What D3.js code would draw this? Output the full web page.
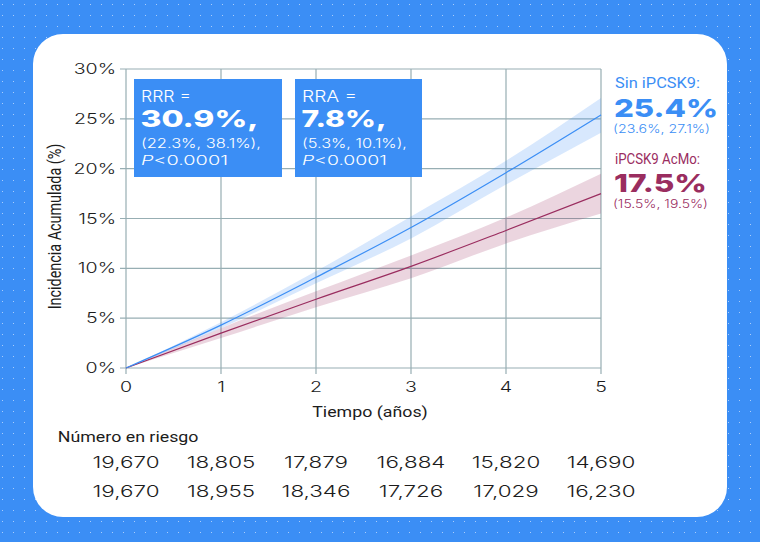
<!DOCTYPE html>
<html>
<head>
<meta charset="utf-8">
<script src="https://cdn.jsdelivr.net/npm/d3@7"></script>
<style>
  body { margin: 0; background: #3b8ef5; }
  svg { display: block; }
</style>
</head>
<body>
<div id="chart"></div>
<script>
// data
var years = [0, 1, 2, 3, 4, 5];
var sinRate = [0, 4.3, 9.1, 14.1, 19.6, 25.4];
var sinLow = [0, 4.0, 8.5, 13.0, 18.4, 23.6];
var sinHigh = [0, 4.6, 9.7, 15.2, 20.8, 27.1];
var acmoRate = [0, 3.5, 6.9, 10.2, 13.8, 17.5];
var acmoLow = [0, 3.0, 6.1, 9.0, 12.5, 15.5];
var acmoHigh = [0, 4.0, 7.7, 11.3, 15.1, 19.5];
var yTicks = [0, 5, 10, 15, 20, 25, 30];
var riskSin = [19670, 18805, 17879, 16884, 15820, 14690];
var riskAcmo = [19670, 18955, 18346, 17726, 17029, 16230];

var blue = "#3b8ef5", wine = "#9a2d5f", gridColor = "#97aeb3", ink = "#1c1c1c";
var geo = "Inter, 'Open Sans', sans-serif";
var plain = "Roboto, sans-serif";

var svg = d3.select("#chart").append("svg")
    .attr("width", 760)
    .attr("height", 542);

// dotted background
var defs = svg.append("defs");
var pat = defs.append("pattern")
    .attr("id", "dots")
    .attr("patternUnits", "userSpaceOnUse")
    .attr("x", 8).attr("y", 10)
    .attr("width", 11).attr("height", 11);
pat.append("rect").attr("width", 11).attr("height", 11).attr("fill", blue);
pat.append("rect").attr("x", 5).attr("y", 5).attr("width", 1).attr("height", 1).attr("fill", "#a9cdfb");

svg.append("rect").attr("width", 760).attr("height", 542).attr("fill", "url(#dots)");
svg.append("rect")
    .attr("x", 33).attr("y", 34)
    .attr("width", 694).attr("height", 483)
    .attr("rx", 30)
    .attr("fill", "#fff");

var margin = { left: 126, top: 69 },
    width = 475, height = 299;

var x = d3.scaleLinear().domain([0, 5]).range([0, width]);
var y = d3.scaleLinear().domain([0, 30]).range([height, 0]);

var g = svg.append("g").attr("transform", "translate(" + margin.left + "," + margin.top + ")");

// text helper: the picture is stretched wide, so squeeze fonts out horizontally
function stretch(sel, tx, ty, sx) {
    return sel.attr("transform", "translate(" + tx + "," + ty + ") scale(" + sx + ",1)");
}

// grid
g.append("g").selectAll("line")
    .data(yTicks).enter().append("line")
    .attr("x1", -6).attr("x2", width)
    .attr("y1", function (d) { return y(d); })
    .attr("y2", function (d) { return y(d); })
    .attr("stroke", gridColor).attr("stroke-width", 1.2);
g.append("g").selectAll("line")
    .data(years).enter().append("line")
    .attr("x1", function (d) { return x(d); })
    .attr("x2", function (d) { return x(d); })
    .attr("y1", 0).attr("y2", height + 6)
    .attr("stroke", gridColor).attr("stroke-width", 1.2);

// bands and lines
function series(rate, low, high) {
    return years.map(function (t, i) { return { t: t, v: rate[i], lo: low[i], hi: high[i] }; });
}
var sinData = series(sinRate, sinLow, sinHigh);
var acmoData = series(acmoRate, acmoLow, acmoHigh);

var area = d3.area()
    .curve(d3.curveMonotoneX)
    .x(function (d) { return x(d.t); })
    .y0(function (d) { return y(d.lo); })
    .y1(function (d) { return y(d.hi); });
var line = d3.line()
    .curve(d3.curveMonotoneX)
    .x(function (d) { return x(d.t); })
    .y(function (d) { return y(d.v); });

g.append("path").attr("d", area(acmoData)).attr("fill", wine).attr("fill-opacity", 0.2);
g.append("path").attr("d", area(sinData)).attr("fill", blue).attr("fill-opacity", 0.2);
g.append("path").attr("d", line(acmoData)).attr("fill", "none").attr("stroke", wine).attr("stroke-width", 1.2);
g.append("path").attr("d", line(sinData)).attr("fill", "none").attr("stroke", blue).attr("stroke-width", 1.2);

// axis labels
g.append("g").selectAll("text")
    .data(yTicks).enter().append("text")
    .attr("transform", function (d) { return "translate(-10," + (y(d) + 5) + ") scale(1.4,1)"; })
    .attr("text-anchor", "end")
    .attr("font-family", geo).attr("font-weight", 300)
    .attr("font-size", 14).attr("fill", ink)
    .text(function (d) { return d + "%"; });
g.append("g").selectAll("text")
    .data(years).enter().append("text")
    .attr("transform", function (d) { return "translate(" + x(d) + "," + (height + 24) + ") scale(1.4,1)"; })
    .attr("text-anchor", "middle")
    .attr("font-family", geo).attr("font-weight", 300)
    .attr("font-size", 14).attr("fill", ink)
    .text(function (d) { return d; });

stretch(svg.append("text"), 370, 416.5, 1.27)
    .attr("text-anchor", "middle")
    .attr("font-family", plain).attr("font-size", 14).attr("fill", ink)
    .text("Tiempo (años)");
svg.append("text")
    .attr("transform", "translate(61,226.5) scale(1.27,1) rotate(-90)")
    .attr("text-anchor", "middle")
    .attr("font-family", plain).attr("font-size", 14.4).attr("fill", ink)
    .text("Incidencia Acumulada (%)");

// annotation boxes
function fit(sel, len) {
    return sel.attr("textLength", len).attr("lengthAdjust", "spacingAndGlyphs");
}
function box(bx, bw, label, big, ci, lens) {
    var b = svg.append("g").attr("transform", "translate(" + bx + ",79)");
    b.append("rect").attr("width", bw).attr("height", 98).attr("fill", blue);
    var tx = 7;
    fit(b.append("text"), lens[0]).attr("x", tx).attr("y", 22.7)
        .attr("font-family", geo).attr("font-weight", 300).attr("font-size", 16).attr("fill", "#fff")
        .text(label);
    fit(b.append("text"), lens[1]).attr("x", tx - 0.5).attr("y", 48.3)
        .attr("font-family", geo).attr("font-weight", 800).attr("font-size", 23).attr("fill", "#fff")
        .text(big);
    fit(b.append("text"), lens[2]).attr("x", tx).attr("y", 68.5)
        .attr("font-family", geo).attr("font-weight", 300).attr("font-size", 12.8).attr("fill", "#fff")
        .text(ci);
    var p = fit(b.append("text"), lens[3]).attr("x", tx).attr("y", 86)
        .attr("font-family", geo).attr("font-weight", 300).attr("font-size", 12.8).attr("fill", "#fff");
    p.append("tspan").attr("font-style", "italic").text("P");
    p.append("tspan").text("<0.0001");
}
box(134, 148, "RRR =", "30.9%,", "(22.3%, 38.1%),", [50, 118, 120, 87]);
box(295, 127, "RRA =", "7.8%,", "(5.3%, 10.1%),", [55, 85, 105, 85]);

// end-of-curve labels
function endLabel(ty, color, name, big, ci, lens) {
    var e = svg.append("g").attr("transform", "translate(614," + ty + ")").attr("fill", color);
    fit(e.append("text"), lens[0]).attr("x", 1).attr("y", 0)
        .attr("font-family", plain).attr("font-size", 14).text(name);
    fit(e.append("text"), lens[1]).attr("y", 28.4)
        .attr("font-family", geo).attr("font-weight", 800).attr("font-size", 25).text(big);
    fit(e.append("text"), lens[2]).attr("x", -1).attr("y", 44.4)
        .attr("font-family", geo).attr("font-weight", 300).attr("font-size", 11.5).text(ci);
}
endLabel(88.3, blue, "Sin iPCSK9:", "25.4%", "(23.6%, 27.1%)", [85, 104, 97]);
endLabel(164, wine, "iPCSK9 AcMo:", "17.5%", "(15.5%, 19.5%)", [85, 93, 95]);

// number at risk
stretch(svg.append("text"), 57.8, 441.7, 1.27)
    .attr("font-family", plain).attr("font-size", 14).attr("fill", ink)
    .text("Número en riesgo");
var fmt = d3.format(",");
[riskSin, riskAcmo].forEach(function (row, r) {
    svg.append("g").selectAll("text")
        .data(row).enter().append("text")
        .attr("transform", function (d, i) {
            return "translate(" + (margin.left + x(years[i])) + "," + (468.3 + r * 28.3) + ") scale(1.4,1)";
        })
        .attr("text-anchor", "middle")
        .attr("font-family", geo).attr("font-weight", 300)
        .attr("font-size", 16).attr("fill", ink)
        .text(function (d) { return fmt(d); });
});
</script>
</body>
</html>
